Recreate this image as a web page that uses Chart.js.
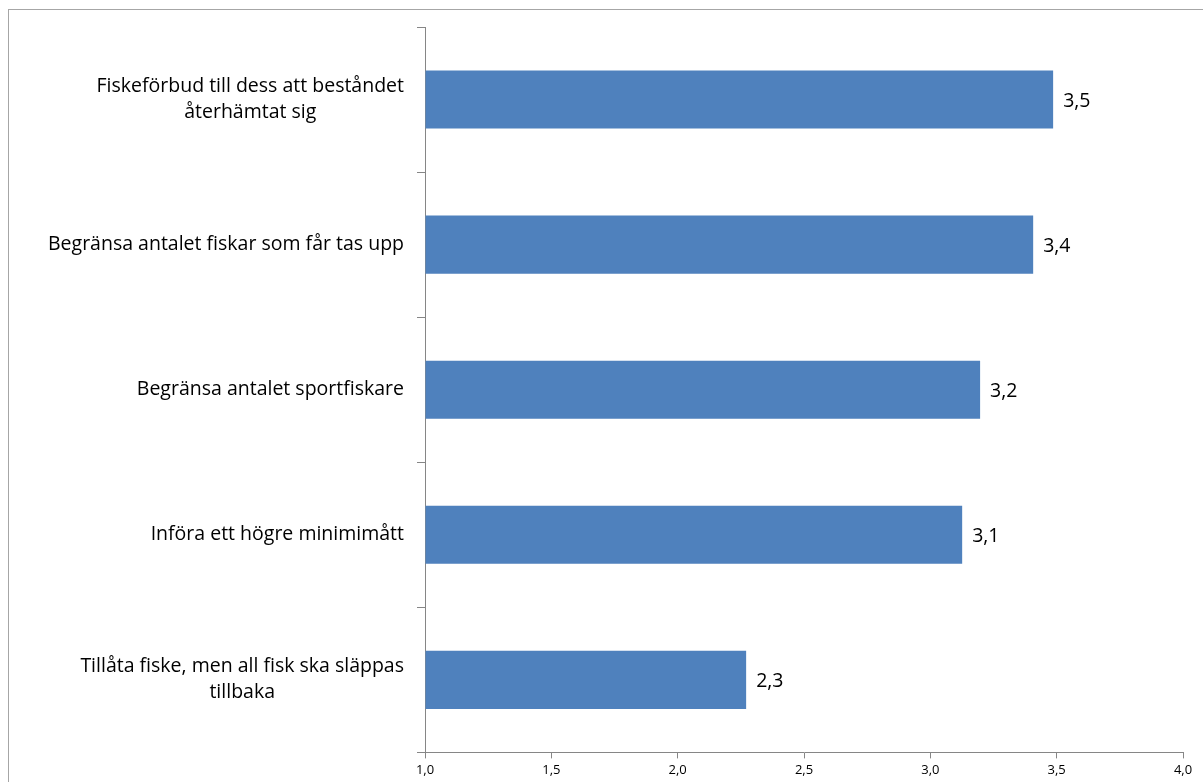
<!DOCTYPE html>
<html>
<head>
<meta charset="utf-8">
<script src="https://cdn.jsdelivr.net/npm/chart.js"></script>
<style>
    body { margin: 0; background: #fff; }
    canvas { display: block; }
</style>
</head>
<body>
<canvas id="myChart" width="1203" height="782"></canvas>
<script>
// chart data
const categories = [
    ['Fiskeförbud till dess att beståndet', 'återhämtat sig'],
    ['Begränsa antalet fiskar som får tas upp'],
    ['Begränsa antalet sportfiskare'],
    ['Införa ett högre minimimått'],
    ['Tillåta fiske, men all fisk ska släppas', 'tillbaka']
]
const meanValues = [3.486, 3.407, 3.197, 3.126, 2.271]
const xTicks = [1.0, 1.5, 2.0, 2.5, 3.0, 3.5, 4.0]

const labelFont = '19.5px "Open Sans"'
const fmt = v => v.toFixed(1).replace('.', ',')

// grey frame round the whole chart (runs off the right and bottom edge)
const framePlugin = {
    id: 'frame',
    beforeDraw(chart) {
        const c = chart.ctx
        c.save()
        c.strokeStyle = '#a6a6a6'
        c.lineWidth = 1
        c.strokeRect(8.5, 9.5, 1400, 1000)
        c.restore()
    }
}

// category labels: first line right aligned, second line centred under it
const catLabels = {
    id: 'catLabels',
    afterDraw(chart) {
        const c = chart.ctx
        const y = chart.scales.y
        c.save()
        c.font = labelFont
        c.fillStyle = '#000'
        c.textBaseline = 'middle'
        const right = 404
        const lh = 26
        categories.forEach((lines, i) => {
            const cy = y.getPixelForValue(i)
            const top = cy - (lines.length - 1) * lh / 2
            const firstW = c.measureText(lines[0]).width
            lines.forEach((line, j) => {
                if (j === 0) {
                    c.textAlign = 'right'
                    c.fillText(line, right, top)
                } else {
                    c.textAlign = 'center'
                    c.fillText(line, right - firstW / 2, top + j * lh)
                }
            })
        })
        c.restore()
    }
}

// value labels at the end of each bar
const valueLabels = {
    id: 'valueLabels',
    afterDatasetsDraw(chart) {
        const c = chart.ctx
        const meta = chart.getDatasetMeta(0)
        c.save()
        c.font = labelFont
        c.fillStyle = '#000'
        c.textAlign = 'left'
        c.textBaseline = 'middle'
        meta.data.forEach((bar, i) => {
            c.fillText(fmt(meanValues[i]), bar.x + 10, bar.y + 2)
        })
        c.restore()
    }
}

const ctx = document.getElementById('myChart')
new Chart(ctx, {
    type: 'bar',
    data: {
        labels: categories,
        datasets: [{
            data: meanValues,
            base: 1,
            backgroundColor: '#4f81bd',
            barPercentage: 0.4,
            categoryPercentage: 1
        }]
    },
    options: {
        indexAxis: 'y',
        responsive: false,
        animation: false,
        layout: {
            padding: { top: 27, right: 20, bottom: 0, left: 0 }
        },
        plugins: {
            legend: { display: false },
            tooltip: { enabled: false }
        },
        scales: {
            x: {
                min: 1,
                max: 4,
                afterBuildTicks(scale) {
                    scale.ticks = xTicks.map(v => ({ value: v }))
                },
                ticks: {
                    callback: v => fmt(v),
                    font: { family: 'Open Sans', size: 13 },
                    color: '#000',
                    padding: 4,
                    maxRotation: 0
                },
                grid: {
                    drawOnChartArea: false,
                    tickLength: 6,
                    tickColor: '#868686'
                },
                border: { color: '#868686' }
            },
            y: {
                afterFit(scale) {
                    scale.width = 425
                },
                ticks: { display: false },
                grid: {
                    drawOnChartArea: false,
                    tickLength: 8,
                    tickColor: '#868686',
                    offset: true
                },
                border: { color: '#868686' }
            }
        }
    },
    plugins: [framePlugin, catLabels, valueLabels]
})
</script>
</body>
</html>
